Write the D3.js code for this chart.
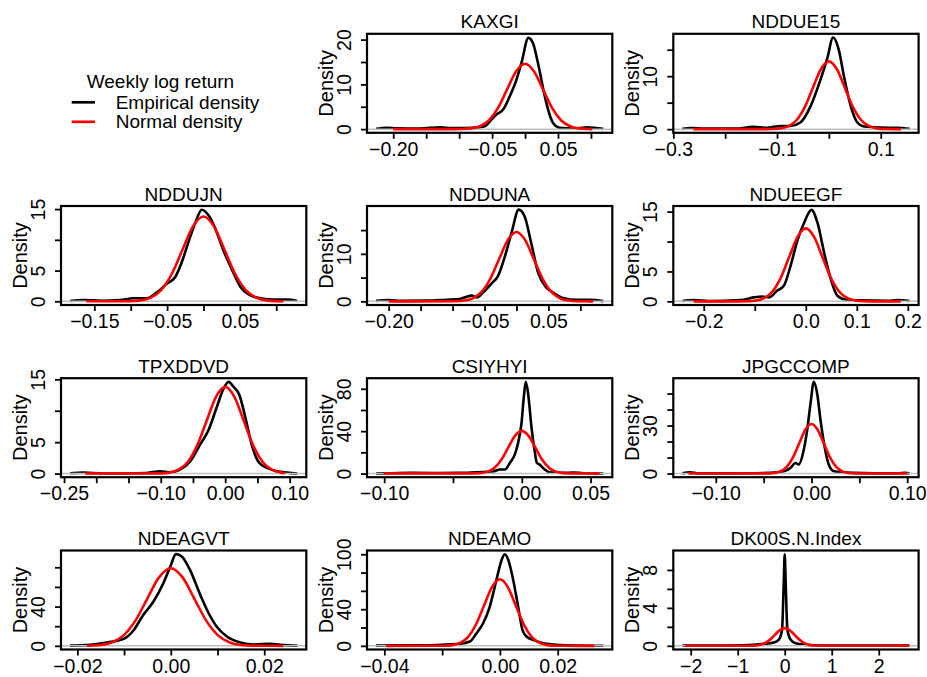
<!DOCTYPE html>
<html>
<head>
<meta charset="utf-8">
<script src="https://cdn.jsdelivr.net/npm/d3@7"></script>
<style>
  body { margin: 0; background: #fff; }
  svg { display: block; }
  text { font-family: "Liberation Sans", Arial, Helvetica, sans-serif; fill: #000; }
</style>
</head>
<body>
<svg id="chart" width="927" height="677"></svg>
<script>
// ---- Panel titles (series names) ----
const titles = ["KAXGI", "NDDUE15", "NDDUJN", "NDDUNA", "NDUEEGF", "TPXDDVD",
                "CSIYHYI", "JPGCCOMP", "NDEAGVT", "NDEAMO", "DK00S.N.Index"];

// ---- Axis limits (weekly log return, density) ----
const xLimits = [[-0.2398, 0.1324], [-0.300, 0.173], [-0.1958, 0.1413], [-0.2339, 0.150],
                 [-0.2597, 0.2211], [-0.2547, 0.1258], [-0.1125, 0.0658], [-0.1444, 0.1119],
                 [-0.0235, 0.0290], [-0.046, 0.0389], [-2.37, 2.848]];
const yLimits = [[-0.82, 21.3], [-0.69, 18.0], [-0.6, 15.5], [-0.77, 20.07], [-0.61, 15.94],
                 [-0.58, 15.18], [-3.46, 90], [-2.29, 59.6], [-3.74, 97.1], [-4.0, 104.1],
                 [-0.39, 10.05]];

// ---- Tick values and their labels ("" = tick without label) ----
const xTicks = [[-0.20, -0.15, -0.10, -0.05, 0, 0.05, 0.10], [-0.3, -0.2, -0.1, 0, 0.1],
                [-0.15, -0.10, -0.05, 0, 0.05, 0.10], [-0.20, -0.15, -0.10, -0.05, 0, 0.05, 0.10],
                [-0.2, -0.1, 0, 0.1, 0.2], [-0.25, -0.20, -0.15, -0.10, -0.05, 0, 0.05, 0.10],
                [-0.10, -0.05, 0, 0.05], [-0.10, -0.05, 0, 0.05, 0.10],
                [-0.02, -0.01, 0, 0.01, 0.02], [-0.04, -0.02, 0, 0.02], [-2, -1, 0, 1, 2]];
const xTickLabels = [["−0.20", "", "", "−0.05", "", "0.05", ""], ["−0.3", "", "−0.1", "", "0.1"],
                     ["−0.15", "", "−0.05", "", "0.05", ""], ["−0.20", "", "", "−0.05", "", "0.05", ""],
                     ["−0.2", "", "0.0", "0.1", "0.2"], ["−0.25", "", "", "−0.10", "", "0.00", "", "0.10"],
                     ["−0.10", "", "0.00", "0.05"], ["−0.10", "", "0.00", "", "0.10"],
                     ["−0.02", "", "0.00", "", "0.02"], ["−0.04", "", "0.00", "0.02"],
                     ["−2", "−1", "0", "1", "2"]];
const yTicks = [[0, 5, 10, 15, 20], [0, 5, 10, 15], [0, 5, 10, 15], [0, 5, 10, 15], [0, 5, 10, 15],
                [0, 5, 10, 15], [0, 20, 40, 60, 80], [0, 10, 20, 30, 40, 50], [0, 20, 40, 60, 80],
                [0, 20, 40, 60, 80, 100], [0, 2, 4, 6, 8]];
const yTickLabels = [["0", "", "10", "", "20"], ["0", "", "10", ""], ["0", "5", "", "15"],
                     ["0", "", "10", ""], ["0", "5", "", "15"], ["0", "5", "", "15"],
                     ["0", "", "40", "", "80"], ["0", "", "", "30", "", ""], ["0", "", "40", "", ""],
                     ["0", "", "40", "", "", "100"], ["0", "", "4", "", "8"]];

// ---- Empirical (kernel) densities: [return, density] ----
const kaxgiEmp = [[-0.226,0.05],[-0.21,0.3],[-0.195,0.2],[-0.16,0.15],[-0.129,0.4],[-0.11,0.25],[-0.08,0.3],
  [-0.0611,0.67],[-0.051,2.15],[-0.0434,3.26],[-0.0333,4.37],[-0.0232,7.33],[-0.0131,11.0],[-0.0056,14.7],
  [0.0051,20.4],[0.0121,19.2],[0.0197,14.7],[0.0273,9.2],[0.0349,4.4],[0.0424,1.4],[0.0525,0.3],
  [0.0625,0.2],[0.08,0.2],[0.093,0.4],[0.105,0.3],[0.1186,0.05]];
const ndduE15Emp = [[-0.2825,0.05],[-0.265,0.2],[-0.24,0.1],[-0.18,0.1],[-0.145,0.45],[-0.12,0.25],[-0.093,0.6],
  [-0.074,0.6],[-0.055,1.25],[-0.035,4.4],[-0.016,9.4],[-0.003,13.4],[0.008,17.3],[0.019,15],[0.029,10],
  [0.042,4.4],[0.055,1.25],[0.068,0.5],[0.1,0.3],[0.132,0.25],[0.1555,0.05]];
const nddujnEmp = [[-0.1833,0.05],[-0.165,0.2],[-0.14,0.1],[-0.115,0.2],[-0.096,0.5],[-0.078,0.5],[-0.064,1.45],
  [-0.05,2.9],[-0.039,3.9],[-0.03,6.3],[-0.021,9.5],[-0.0115,12.7],[-0.0023,14.9],[0.0069,14.0],[0.016,11.9],
  [0.027,8.4],[0.039,5.2],[0.05,2.5],[0.064,1.0],[0.078,0.5],[0.096,0.27],[0.115,0.27],[0.1288,0.05]];
const nddunaEmp = [[-0.2197,0.1],[-0.2,0.25],[-0.18,0.1],[-0.14,0.15],[-0.11,0.35],[-0.089,0.5],[-0.07,1.2],
  [-0.062,0.8],[-0.052,1.9],[-0.039,3.75],[-0.029,5.3],[-0.018,9.5],[-0.0078,14.4],[0.0036,19.3],[0.013,17.8],
  [0.023,12.3],[0.034,6.0],[0.047,2.9],[0.057,1.9],[0.073,0.7],[0.094,0.3],[0.115,0.3],[0.1358,0.05]];
const ndueegfEmp = [[-0.2419,0.05],[-0.22,0.2],[-0.19,0.05],[-0.128,0.2],[-0.102,0.66],[-0.086,0.8],[-0.072,0.66],
  [-0.056,1.8],[-0.043,2.6],[-0.03,5.9],[-0.016,10.3],[-0.0035,13.1],[0.011,15.3],[0.023,13.1],[0.036,8.1],
  [0.049,3.7],[0.062,0.94],[0.079,0.28],[0.108,0.17],[0.16,0.1],[0.18,0.2],[0.2033,0.05]];
const tpxddvdEmp = [[-0.2406,0.05],[-0.22,0.15],[-0.19,0.02],[-0.122,0.1],[-0.101,0.37],[-0.085,0.2],[-0.07,0.63],
  [-0.054,1.95],[-0.039,4.6],[-0.026,6.9],[-0.013,10.6],[-0.0026,13.5],[0.0052,14.6],[0.013,13.8],[0.022,12.5],
  [0.031,9.05],[0.042,4.3],[0.052,1.8],[0.065,0.9],[0.08,0.37],[0.096,0.15],[0.1117,0.02]];
const csiyhyiEmp = [[-0.1059,0.1],[-0.095,0.3],[-0.08,0.6],[-0.06,0.5],[-0.045,0.6],[-0.0329,1.25],[-0.0208,1.9],
  [-0.016,3.75],[-0.0123,3.75],[-0.0087,10],[-0.0051,17.8],[-0.0027,28.7],[-0.0002,47.5],[0.0015,72.5],
  [0.0029,86.5],[0.0046,75.6],[0.007,44.4],[0.0094,21],[0.011,10],[0.013,8.4],[0.0167,3.75],[0.02,1.25],
  [0.032,0.6],[0.037,0.9],[0.045,0.3],[0.0592,0.1]];
const jpgccompEmp = [[-0.1349,0.1],[-0.127,0.8],[-0.118,0.1],[-0.09,0.1],[-0.06,0.2],[-0.043,0.4],[-0.029,1.4],
  [-0.022,3.5],[-0.0168,6.6],[-0.0133,5.6],[-0.0084,13.9],[-0.0045,27.3],[-0.001,43.9],[0.0024,57.3],
  [0.0059,50],[0.0094,33.5],[0.0136,17],[0.018,5.6],[0.0234,1.4],[0.044,0.4],[0.065,0.1],[0.09,0.1],
  [0.098,0.4],[0.1024,0.1]];
const ndeagvtEmp = [[-0.0216,0.2],[-0.0173,1],[-0.0137,3.4],[-0.0102,6.8],[-0.008,15.6],[-0.0059,31.5],
  [-0.0037,45.1],[-0.0016,63.7],[-0.0001,80.7],[0.0011,93.4],[0.0024,90.8],[0.0041,77.3],[0.0063,51.9],
  [0.0081,33.2],[0.0098,19.7],[0.012,9.5],[0.0149,3.4],[0.0177,1.4],[0.0213,2],[0.0234,1],[0.0271,0.1]];
const ndeamoEmp = [[-0.0429,0.2],[-0.035,0.7],[-0.0253,0.7],[-0.0184,1.5],[-0.0138,2.2],[-0.0104,4.7],
  [-0.0081,13.8],[-0.0058,24.7],[-0.0035,42.9],[-0.0012,72],[0.0006,93.8],[0.0017,100],[0.0029,93.8],
  [0.0046,72],[0.0063,42.9],[0.0078,17.5],[0.0092,10.2],[0.0115,6.5],[0.015,2.9],[0.0184,1.5],[0.023,0.7],
  [0.0358,0.1]];
const dk00sEmp = [[-2.177,0.02],[-1.5,0.02],[-0.9,0.05],[-0.662,0.1],[-0.448,0.2],[-0.235,0.35],[-0.128,0.63],
  [-0.057,1.7],[-0.021,6.6],[0,9.66],[0.021,6.6],[0.057,1.7],[0.128,0.63],[0.228,0.28],[0.477,0.1],
  [0.762,0.02],[1.5,0.02],[2.655,0.02]];

// ---- Fitted normal densities: [return, density] ----
const kaxgiNorm = [[-0.2,0],[-0.1092,0.004],[-0.0956,0.03],[-0.0819,0.16],[-0.0683,0.64],[-0.0546,1.98],
  [-0.041,4.74],[-0.0273,8.85],[-0.0137,12.88],[0,14.6],[0.0137,12.88],[0.0273,8.85],[0.041,4.74],
  [0.0546,1.98],[0.0683,0.64],[0.0819,0.16],[0.0956,0.03],[0.102,0.01]];
const ndduE15Norm = [[-0.261,0],[-0.124,0.004],[-0.1085,0.03],[-0.093,0.14],[-0.0775,0.56],[-0.062,1.73],
  [-0.0465,4.16],[-0.031,7.76],[-0.0155,11.3],[0,12.8],[0.0155,11.3],[0.031,7.76],[0.0465,4.16],
  [0.062,1.73],[0.0775,0.56],[0.093,0.14],[0.1085,0.03],[0.139,0]];
const nddujnNorm = [[-0.161,0],[-0.1156,0.004],[-0.1012,0.03],[-0.0867,0.15],[-0.0723,0.61],[-0.0578,1.87],
  [-0.0434,4.48],[-0.0289,8.37],[-0.01445,12.18],[0,13.8],[0.01445,12.18],[0.0289,8.37],[0.0434,4.48],
  [0.0578,1.87],[0.0723,0.61],[0.0867,0.15],[0.1012,0.03],[0.11,0.01]];
const nddunaNorm = [[-0.2,0],[-0.1092,0.004],[-0.0956,0.03],[-0.0819,0.16],[-0.0683,0.64],[-0.0546,1.98],
  [-0.041,4.74],[-0.0273,8.85],[-0.0137,12.88],[0,14.6],[0.0137,12.88],[0.0273,8.85],[0.041,4.74],
  [0.0546,1.98],[0.0683,0.64],[0.0819,0.16],[0.0956,0.03],[0.1092,0.004],[0.12,0]];
const ndueegfNorm = [[-0.22,0],[-0.1304,0.004],[-0.1141,0.03],[-0.0978,0.14],[-0.0815,0.54],[-0.0652,1.65],
  [-0.0489,3.96],[-0.0326,7.4],[-0.0163,10.77],[0,12.2],[0.0163,10.77],[0.0326,7.4],[0.0489,3.96],
  [0.0652,1.65],[0.0815,0.54],[0.0978,0.14],[0.1141,0.03],[0.1304,0.004],[0.186,0]];
const tpxddvdNorm = [[-0.217,0],[-0.1156,0.004],[-0.1012,0.03],[-0.0867,0.15],[-0.0723,0.61],[-0.0578,1.87],
  [-0.0434,4.48],[-0.0289,8.37],[-0.01445,12.18],[0,13.8],[0.01445,12.18],[0.0289,8.37],[0.0434,4.48],
  [0.0578,1.87],[0.0723,0.61],[0.0867,0.15],[0.093,0.1]];
const csiyhyiNorm = [[-0.1004,0],[-0.0396,0.01],[-0.03465,0.09],[-0.0297,0.45],[-0.02475,1.77],[-0.0198,5.45],
  [-0.01485,13.09],[-0.0099,24.44],[-0.00495,35.56],[0,40.3],[0.00495,35.56],[0.0099,24.44],[0.01485,13.09],
  [0.0198,5.45],[0.02475,1.77],[0.0297,0.45],[0.03465,0.09],[0.0396,0.01],[0.0566,0]];
const jpgccompNorm = [[-0.1285,0],[-0.0516,0.01],[-0.04515,0.07],[-0.0387,0.34],[-0.03225,1.36],[-0.0258,4.19],
  [-0.01935,10.07],[-0.0129,18.8],[-0.00645,27.36],[0,31],[0.00645,27.36],[0.0129,18.8],[0.01935,10.07],
  [0.0258,4.19],[0.03225,1.36],[0.0387,0.34],[0.04515,0.07],[0.0516,0.01],[0.1,0]];
const ndeagvtNorm = [[-0.018,0.14],[-0.01515,0.88],[-0.012625,3.47],[-0.0101,10.69],[-0.007575,25.65],
  [-0.00505,47.91],[-0.002525,69.72],[0,79],[0.002525,69.72],[0.00505,47.91],[0.007575,25.65],[0.0101,10.69],
  [0.012625,3.47],[0.01515,0.88],[0.017675,0.17],[0.0202,0.03],[0.0241,0]];
const ndeamoNorm = [[-0.0394,0],[-0.02196,0.02],[-0.019215,0.16],[-0.01647,0.81],[-0.013725,3.19],
  [-0.01098,9.84],[-0.008235,23.61],[-0.00549,44.09],[-0.002745,64.16],[0,72.7],[0.002745,64.16],
  [0.00549,44.09],[0.008235,23.61],[0.01098,9.84],[0.013725,3.19],[0.01647,0.81],[0.019215,0.16],
  [0.02196,0.02],[0.0327,0]];
const dk00sNorm = [[-2.12,0],[-0.858,0.001],[-0.751,0.004],[-0.6435,0.02],[-0.536,0.08],[-0.429,0.25],
  [-0.322,0.6],[-0.2145,1.13],[-0.107,1.64],[0,1.86],[0.107,1.64],[0.2145,1.13],[0.322,0.6],[0.429,0.25],
  [0.536,0.08],[0.6435,0.02],[0.751,0.004],[0.858,0.001],[2.65,0]];

const empiricalSeries = [kaxgiEmp, ndduE15Emp, nddujnEmp, nddunaEmp, ndueegfEmp, tpxddvdEmp,
                         csiyhyiEmp, jpgccompEmp, ndeagvtEmp, ndeamoEmp, dk00sEmp];
const normalSeries = [kaxgiNorm, ndduE15Norm, nddujnNorm, nddunaNorm, ndueegfNorm, tpxddvdNorm,
                      csiyhyiNorm, jpgccompNorm, ndeagvtNorm, ndeamoNorm, dk00sNorm];

// ---- Legend ----
const legendTitle = "Weekly log return";
const legendLabels = ["Empirical density", "Normal density"];
const legendColors = ["#000000", "#ff0000"];

// ---- Layout: 4 x 3 grid of framed plot regions, first slot holds the legend ----
const svg = d3.select("#chart");
const colLeft = [61, 367, 673.3];
const rowTop = [33.8, 206, 378.2, 550.5];
const boxW = 245.3, boxH = 99;
const tickLen = 6;

titles.forEach((name, i) => {
  const slot = i + 1;
  const r = Math.floor(slot / 3), c = slot % 3;
  const left = colLeft[c], top = rowTop[r];
  const x = d3.scaleLinear().domain(xLimits[i]).range([left, left + boxW]);
  const y = d3.scaleLinear().domain(yLimits[i]).range([top + boxH, top]);
  const g = svg.append("g").attr("class", "panel");

  const line = d3.line().x(d => x(d[0])).y(d => y(d[1])).curve(d3.curveMonotoneX);

  // empirical density first, then the zero reference line, then the normal fit
  g.append("path").datum(empiricalSeries[i])
    .attr("d", line).attr("fill", "none").attr("stroke", legendColors[0])
    .attr("stroke-width", 2.6).attr("stroke-linejoin", "round");
  g.append("line")
    .attr("x1", left).attr("x2", left + boxW)
    .attr("y1", y(0)).attr("y2", y(0))
    .attr("stroke", "#bebebe").attr("stroke-width", 1.5);
  g.append("path").datum(normalSeries[i])
    .attr("d", line).attr("fill", "none").attr("stroke", legendColors[1])
    .attr("stroke-width", 2.6).attr("stroke-linejoin", "round");

  // frame
  g.append("rect")
    .attr("x", left).attr("y", top).attr("width", boxW).attr("height", boxH)
    .attr("fill", "none").attr("stroke", "#000").attr("stroke-width", 2.2);

  // x axis
  const xl = xTickLabels[i];
  const xAxis = d3.axisBottom(x).tickValues(xTicks[i]).tickSize(tickLen).tickSizeOuter(0)
    .tickFormat((d, k) => xl[k]);
  const gx = g.append("g").attr("transform", `translate(0,${top + boxH})`).call(xAxis);
  gx.select(".domain").remove();
  gx.selectAll(".tick line").attr("stroke", "#000").attr("stroke-width", 1.8);
  gx.selectAll(".tick text").attr("y", 23).attr("dy", null)
    .style("font-size", "19.5px").attr("fill", "#000");

  // y axis, labels parallel to the axis
  const yl = yTickLabels[i];
  const yAxis = d3.axisLeft(y).tickValues(yTicks[i]).tickSize(tickLen).tickSizeOuter(0)
    .tickFormat((d, k) => yl[k]);
  const gy = g.append("g").attr("transform", `translate(${left},0)`).call(yAxis);
  gy.select(".domain").remove();
  gy.selectAll(".tick line").attr("stroke", "#000").attr("stroke-width", 1.8);
  gy.selectAll(".tick text")
    .attr("x", null).attr("dy", null)
    .attr("transform", "translate(-16,0) rotate(-90)")
    .attr("text-anchor", "middle")
    .style("font-size", "19.5px").attr("fill", "#000");

  // axis title and panel title
  g.append("text")
    .attr("transform", `translate(${left - 34},${top + boxH / 2}) rotate(-90)`)
    .attr("text-anchor", "middle").style("font-size", "20px").text("Density");
  g.append("text")
    .attr("x", left + boxW / 2).attr("y", top - 5.5)
    .attr("text-anchor", "middle").style("font-size", "19px").text(name);
});

// legend in the first slot
const lg = svg.append("g").attr("class", "legend");
lg.append("text").attr("x", 86.7).attr("y", 87.5).style("font-size", "19px").text(legendTitle);
legendLabels.forEach((lab, k) => {
  const yy = 102.3 + k * 19.5;
  lg.append("line").attr("x1", 71.7).attr("x2", 95).attr("y1", yy).attr("y2", yy)
    .attr("stroke", legendColors[k]).attr("stroke-width", 2.7);
  lg.append("text").attr("x", 115.7).attr("y", yy + 6.5).style("font-size", "19px").text(lab);
});
</script>
</body>
</html>
